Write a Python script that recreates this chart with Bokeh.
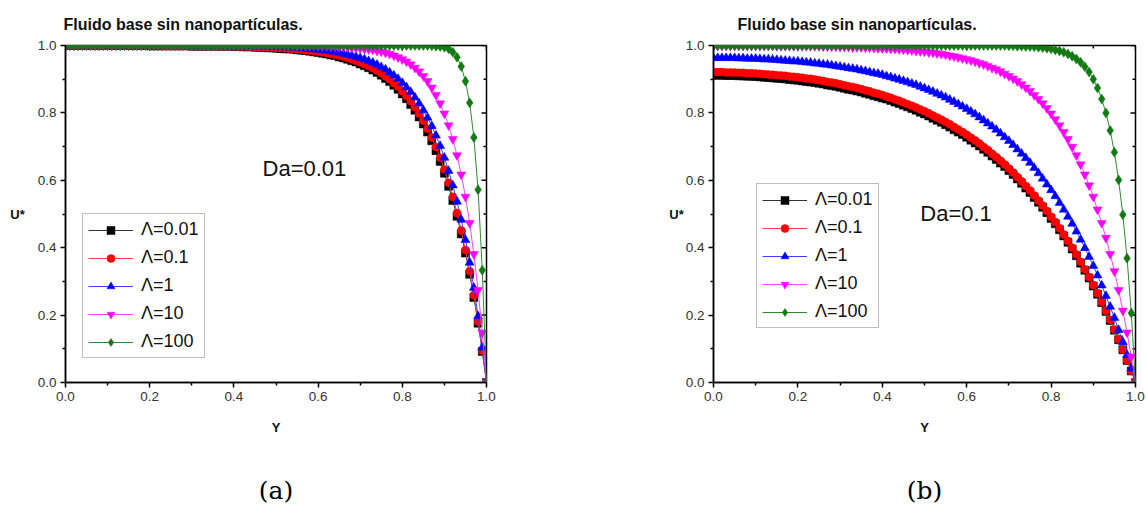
from bokeh.plotting import figure
from bokeh.models import Range1d, FixedTicker, Legend, LegendItem, PrintfTickFormatter, Label, LinearAxis
from bokeh.layouts import row
from bokeh.embed import file_html
from bokeh.resources import INLINE

# ---------------- data ----------------
Y = [0.00, 0.01, 0.02, 0.03, 0.04, 0.05, 0.06, 0.07, 0.08, 0.09,
     0.10, 0.11, 0.12, 0.13, 0.14, 0.15, 0.16, 0.17, 0.18, 0.19,
     0.20, 0.21, 0.22, 0.23, 0.24, 0.25, 0.26, 0.27, 0.28, 0.29,
     0.30, 0.31, 0.32, 0.33, 0.34, 0.35, 0.36, 0.37, 0.38, 0.39,
     0.40, 0.41, 0.42, 0.43, 0.44, 0.45, 0.46, 0.47, 0.48, 0.49,
     0.50, 0.51, 0.52, 0.53, 0.54, 0.55, 0.56, 0.57, 0.58, 0.59,
     0.60, 0.61, 0.62, 0.63, 0.64, 0.65, 0.66, 0.67, 0.68, 0.69,
     0.70, 0.71, 0.72, 0.73, 0.74, 0.75, 0.76, 0.77, 0.78, 0.79,
     0.80, 0.81, 0.82, 0.83, 0.84, 0.85, 0.86, 0.87, 0.88, 0.89,
     0.90, 0.91, 0.92, 0.93, 0.94, 0.95, 0.96, 0.97, 0.98, 0.99,
     1.00]

LEGEND_LABELS = ["Λ=0.01", "Λ=0.1", "Λ=1", "Λ=10", "Λ=100"]
TICKS = [0.0, 0.2, 0.4, 0.6, 0.8, 1.0]
MINOR = [0.1, 0.3, 0.5, 0.7, 0.9]

# (a) Da = 0.01
U_A_001 = [1.000, 1.000, 1.000, 1.000, 1.000, 1.000, 1.000, 1.000, 1.000, 1.000,
           1.000, 1.000, 1.000, 1.000, 1.000, 1.000, 1.000, 1.000, 1.000, 1.000,
           0.999, 0.999, 0.999, 0.999, 0.999, 0.999, 0.999, 0.999, 0.999, 0.999,
           0.998, 0.998, 0.998, 0.998, 0.998, 0.998, 0.998, 0.998, 0.998, 0.998,
           0.997, 0.997, 0.996, 0.996, 0.996, 0.995, 0.995, 0.994, 0.993, 0.993,
           0.992, 0.991, 0.990, 0.990, 0.989, 0.987, 0.986, 0.985, 0.983, 0.981,
           0.979, 0.977, 0.975, 0.972, 0.970, 0.966, 0.963, 0.959, 0.955, 0.951,
           0.945, 0.940, 0.934, 0.927, 0.920, 0.912, 0.902, 0.893, 0.882, 0.870,
           0.856, 0.842, 0.825, 0.808, 0.788, 0.767, 0.743, 0.717, 0.688, 0.656,
           0.621, 0.582, 0.540, 0.493, 0.441, 0.384, 0.321, 0.252, 0.176, 0.092,
           0.000]
U_A_01 = [1.000, 1.000, 1.000, 1.000, 1.000, 1.000, 1.000, 1.000, 1.000, 1.000,
          1.000, 1.000, 1.000, 1.000, 1.000, 1.000, 1.000, 1.000, 1.000, 1.000,
          1.000, 1.000, 1.000, 1.000, 0.999, 0.999, 0.999, 0.999, 0.999, 0.999,
          0.999, 0.999, 0.998, 0.998, 0.998, 0.998, 0.998, 0.998, 0.998, 0.998,
          0.998, 0.997, 0.997, 0.997, 0.996, 0.996, 0.995, 0.995, 0.994, 0.994,
          0.993, 0.993, 0.992, 0.991, 0.990, 0.989, 0.988, 0.986, 0.985, 0.983,
          0.982, 0.980, 0.978, 0.975, 0.973, 0.970, 0.967, 0.963, 0.959, 0.955,
          0.950, 0.945, 0.939, 0.933, 0.926, 0.918, 0.909, 0.900, 0.889, 0.878,
          0.865, 0.850, 0.835, 0.817, 0.798, 0.777, 0.753, 0.727, 0.699, 0.667,
          0.632, 0.593, 0.551, 0.503, 0.451, 0.393, 0.330, 0.259, 0.181, 0.095,
          0.000]
U_A_1 = [1.000, 1.000, 1.000, 1.000, 1.000, 1.000, 1.000, 1.000, 1.000, 1.000,
         1.000, 1.000, 1.000, 1.000, 1.000, 1.000, 1.000, 1.000, 1.000, 1.000,
         1.000, 1.000, 1.000, 1.000, 1.000, 1.000, 1.000, 1.000, 1.000, 1.000,
         0.999, 0.999, 0.999, 0.999, 0.999, 0.999, 0.999, 0.999, 0.998, 0.998,
         0.998, 0.998, 0.998, 0.998, 0.998, 0.998, 0.997, 0.997, 0.997, 0.996,
         0.996, 0.995, 0.995, 0.994, 0.994, 0.993, 0.992, 0.991, 0.990, 0.989,
         0.988, 0.986, 0.985, 0.983, 0.981, 0.979, 0.976, 0.973, 0.970, 0.967,
         0.963, 0.959, 0.954, 0.949, 0.943, 0.936, 0.929, 0.920, 0.911, 0.901,
         0.889, 0.876, 0.862, 0.846, 0.828, 0.808, 0.786, 0.761, 0.733, 0.702,
         0.667, 0.628, 0.585, 0.537, 0.483, 0.423, 0.356, 0.281, 0.197, 0.104,
         0.000]
U_A_10 = [1.000, 1.000, 1.000, 1.000, 1.000, 1.000, 1.000, 1.000, 1.000, 1.000,
          1.000, 1.000, 1.000, 1.000, 1.000, 1.000, 1.000, 1.000, 1.000, 1.000,
          1.000, 1.000, 1.000, 1.000, 1.000, 1.000, 1.000, 1.000, 1.000, 1.000,
          1.000, 1.000, 1.000, 1.000, 1.000, 1.000, 1.000, 1.000, 1.000, 1.000,
          1.000, 1.000, 1.000, 1.000, 1.000, 1.000, 1.000, 1.000, 1.000, 1.000,
          1.000, 1.000, 1.000, 1.000, 1.000, 0.999, 0.999, 0.999, 0.999, 0.999,
          0.998, 0.998, 0.998, 0.997, 0.997, 0.996, 0.996, 0.995, 0.994, 0.993,
          0.992, 0.990, 0.989, 0.987, 0.984, 0.982, 0.979, 0.975, 0.970, 0.965,
          0.959, 0.952, 0.944, 0.934, 0.923, 0.909, 0.894, 0.875, 0.853, 0.828,
          0.798, 0.763, 0.722, 0.674, 0.617, 0.551, 0.473, 0.381, 0.274, 0.148,
          0.000]
U_A_100 = [1.000, 1.000, 1.000, 1.000, 1.000, 1.000, 1.000, 1.000, 1.000, 1.000,
           1.000, 1.000, 1.000, 1.000, 1.000, 1.000, 1.000, 1.000, 1.000, 1.000,
           1.000, 1.000, 1.000, 1.000, 1.000, 1.000, 1.000, 1.000, 1.000, 1.000,
           1.000, 1.000, 1.000, 1.000, 1.000, 1.000, 1.000, 1.000, 1.000, 1.000,
           1.000, 1.000, 1.000, 1.000, 1.000, 1.000, 1.000, 1.000, 1.000, 1.000,
           1.000, 1.000, 1.000, 1.000, 1.000, 1.000, 1.000, 1.000, 1.000, 1.000,
           1.000, 1.000, 1.000, 1.000, 1.000, 1.000, 1.000, 1.000, 1.000, 1.000,
           1.000, 1.000, 1.000, 1.000, 1.000, 1.000, 1.000, 1.000, 1.000, 1.000,
           1.000, 1.000, 1.000, 1.000, 1.000, 1.000, 1.000, 0.999, 0.998, 0.997,
           0.995, 0.990, 0.980, 0.965, 0.938, 0.894, 0.830, 0.727, 0.572, 0.333,
           0.000]

# (b) Da = 0.1
U_B_001 = [0.912, 0.912, 0.912, 0.911, 0.911, 0.911, 0.910, 0.910, 0.909, 0.909,
           0.908, 0.907, 0.906, 0.905, 0.904, 0.903, 0.902, 0.901, 0.899, 0.898,
           0.897, 0.895, 0.893, 0.892, 0.890, 0.888, 0.886, 0.883, 0.881, 0.879,
           0.876, 0.873, 0.870, 0.868, 0.865, 0.862, 0.858, 0.855, 0.851, 0.848,
           0.844, 0.841, 0.837, 0.832, 0.828, 0.823, 0.818, 0.813, 0.808, 0.802,
           0.797, 0.791, 0.784, 0.778, 0.772, 0.765, 0.758, 0.750, 0.743, 0.736,
           0.728, 0.719, 0.711, 0.702, 0.692, 0.683, 0.672, 0.662, 0.651, 0.641,
           0.629, 0.617, 0.604, 0.591, 0.577, 0.564, 0.549, 0.535, 0.520, 0.504,
           0.487, 0.471, 0.453, 0.435, 0.416, 0.396, 0.376, 0.354, 0.333, 0.310,
           0.286, 0.262, 0.237, 0.211, 0.184, 0.155, 0.127, 0.097, 0.065, 0.034,
           0.000]
U_B_01 = [0.921, 0.921, 0.921, 0.920, 0.920, 0.920, 0.919, 0.919, 0.918, 0.918,
          0.917, 0.916, 0.915, 0.914, 0.913, 0.912, 0.911, 0.910, 0.908, 0.907,
          0.906, 0.904, 0.902, 0.901, 0.899, 0.897, 0.895, 0.892, 0.890, 0.888,
          0.885, 0.882, 0.879, 0.877, 0.874, 0.871, 0.867, 0.864, 0.860, 0.857,
          0.853, 0.849, 0.845, 0.840, 0.836, 0.831, 0.826, 0.821, 0.816, 0.810,
          0.805, 0.799, 0.792, 0.786, 0.780, 0.773, 0.766, 0.758, 0.751, 0.743,
          0.735, 0.726, 0.718, 0.709, 0.699, 0.690, 0.679, 0.669, 0.658, 0.647,
          0.635, 0.623, 0.610, 0.597, 0.583, 0.570, 0.555, 0.540, 0.525, 0.509,
          0.492, 0.476, 0.458, 0.439, 0.420, 0.400, 0.380, 0.358, 0.336, 0.313,
          0.289, 0.265, 0.239, 0.213, 0.186, 0.157, 0.128, 0.098, 0.066, 0.034,
          0.000]
U_B_1 = [0.963, 0.963, 0.963, 0.963, 0.963, 0.963, 0.962, 0.962, 0.961, 0.961,
         0.961, 0.960, 0.959, 0.959, 0.958, 0.957, 0.956, 0.955, 0.954, 0.953,
         0.953, 0.951, 0.950, 0.949, 0.947, 0.946, 0.944, 0.943, 0.941, 0.939,
         0.937, 0.935, 0.933, 0.931, 0.929, 0.926, 0.924, 0.921, 0.918, 0.916,
         0.913, 0.909, 0.906, 0.902, 0.899, 0.895, 0.891, 0.887, 0.883, 0.878,
         0.873, 0.868, 0.863, 0.857, 0.852, 0.846, 0.839, 0.833, 0.826, 0.819,
         0.812, 0.804, 0.796, 0.787, 0.778, 0.769, 0.760, 0.750, 0.739, 0.728,
         0.717, 0.705, 0.692, 0.679, 0.666, 0.652, 0.637, 0.621, 0.605, 0.588,
         0.571, 0.553, 0.533, 0.513, 0.492, 0.471, 0.448, 0.424, 0.399, 0.373,
         0.346, 0.318, 0.288, 0.257, 0.225, 0.192, 0.156, 0.120, 0.082, 0.042,
         0.000]
U_B_10 = [0.999, 0.999, 0.999, 0.999, 0.999, 0.999, 0.999, 0.999, 0.999, 0.999,
          0.999, 0.999, 0.999, 0.999, 0.999, 0.998, 0.998, 0.998, 0.998, 0.998,
          0.998, 0.998, 0.998, 0.998, 0.998, 0.998, 0.997, 0.997, 0.997, 0.997,
          0.996, 0.996, 0.996, 0.995, 0.995, 0.995, 0.994, 0.994, 0.993, 0.992,
          0.992, 0.991, 0.990, 0.990, 0.989, 0.988, 0.987, 0.986, 0.984, 0.983,
          0.982, 0.980, 0.979, 0.977, 0.975, 0.973, 0.970, 0.968, 0.965, 0.962,
          0.959, 0.956, 0.952, 0.948, 0.944, 0.939, 0.934, 0.929, 0.923, 0.916,
          0.909, 0.902, 0.894, 0.885, 0.875, 0.865, 0.853, 0.841, 0.828, 0.814,
          0.798, 0.781, 0.763, 0.743, 0.722, 0.699, 0.674, 0.647, 0.617, 0.585,
          0.551, 0.513, 0.473, 0.429, 0.381, 0.330, 0.274, 0.213, 0.148, 0.077,
          0.000]
U_B_100 = [1.000, 1.000, 1.000, 1.000, 1.000, 1.000, 1.000, 1.000, 1.000, 1.000,
           1.000, 1.000, 1.000, 1.000, 1.000, 1.000, 1.000, 1.000, 1.000, 1.000,
           1.000, 1.000, 1.000, 1.000, 1.000, 1.000, 1.000, 1.000, 1.000, 1.000,
           1.000, 1.000, 1.000, 1.000, 1.000, 1.000, 1.000, 1.000, 1.000, 1.000,
           1.000, 1.000, 1.000, 1.000, 1.000, 1.000, 1.000, 1.000, 1.000, 1.000,
           1.000, 1.000, 1.000, 1.000, 1.000, 1.000, 1.000, 1.000, 1.000, 1.000,
           1.000, 1.000, 1.000, 1.000, 1.000, 1.000, 1.000, 1.000, 1.000, 1.000,
           0.999, 0.999, 0.998, 0.998, 0.997, 0.997, 0.996, 0.995, 0.994, 0.992,
           0.990, 0.987, 0.984, 0.980, 0.975, 0.968, 0.960, 0.950, 0.937, 0.921,
           0.900, 0.874, 0.841, 0.800, 0.748, 0.683, 0.601, 0.498, 0.369, 0.206,
           0.000]

for s in (U_A_001, U_A_01, U_A_1, U_A_10, U_A_100, U_B_001, U_B_01, U_B_1, U_B_10, U_B_100):
    assert len(s) == len(Y), len(s)

# ---------------- styling ----------------
COLORS = ["#000000", "#FF0000", "#0000FF", "#FF00FF", "#137A13"]
LINE_COLORS = ["#333333", "#FF4040", "#4040FF", "#FF40FF", "#2E8B2E"]
MARKERS = ["square", "circle", "triangle", "inverted_triangle", "diamond"]
SIZES = [8, 8, 9, 9, 10]
SANS = "Liberation Sans"
FRAME_H = 339


def style_axis(ax, label, standoff, horizontal=False):
    ax.ticker = FixedTicker(ticks=TICKS, minor_ticks=MINOR)
    ax.axis_line_width = 1.5
    ax.axis_line_color = "black"
    ax.major_tick_line_width = 1.5
    ax.minor_tick_line_width = 1.5
    ax.major_tick_line_color = "black"
    ax.minor_tick_line_color = "black"
    ax.major_tick_in = 0
    ax.major_tick_out = 5
    ax.minor_tick_in = 0
    ax.minor_tick_out = 3
    ax.formatter = PrintfTickFormatter(format="%.1f")
    ax.major_label_text_font = SANS
    ax.major_label_text_font_size = "13.5px"
    ax.major_label_text_color = "#333333"
    ax.major_label_standoff = 4
    ax.axis_label = label
    ax.axis_label_text_font = SANS
    ax.axis_label_text_font_style = "bold"
    ax.axis_label_text_font_size = "13px"
    ax.axis_label_text_color = "#111111"
    ax.axis_label_standoff = standoff
    if horizontal:
        try:
            ax.axis_label_orientation = "horizontal"
        except Exception:
            pass


def make_panel(series, width, border_left, border_right, title_offset, da_text, da_x, da_y,
               legend_xy, cap_text, ulabel_standoff, frame_w):
    p = figure(width=width, height=507, x_range=Range1d(0, 1), y_range=Range1d(0, 1),
               output_backend="svg", toolbar_location=None,
               min_border_left=border_left, min_border_right=border_right,
               min_border_top=44, min_border_bottom=124)
    p.xgrid.visible = False
    p.ygrid.visible = False
    p.outline_line_color = "black"
    p.outline_line_width = 1.5
    p.background_fill_color = "white"
    p.border_fill_color = "white"
    style_axis(p.xaxis[0], "Y", 16)
    style_axis(p.yaxis[0], "U*", ulabel_standoff, horizontal=True)

    # inward ticks on the top and right frame edges
    n = len(TICKS)
    m = len(MINOR)
    p.segment(x0=TICKS, y0=[1.0] * n, x1=TICKS, y1=[1.0 - 5.0 / FRAME_H] * n,
              line_color="black", line_width=1.5)
    p.segment(x0=MINOR, y0=[1.0] * m, x1=MINOR, y1=[1.0 - 3.0 / FRAME_H] * m,
              line_color="black", line_width=1.5)
    p.segment(x0=[1.0] * n, y0=TICKS, x1=[1.0 - 5.0 / frame_w] * n, y1=TICKS,
              line_color="black", line_width=1.5)
    p.segment(x0=[1.0] * m, y0=MINOR, x1=[1.0 - 3.0 / frame_w] * m, y1=MINOR,
              line_color="black", line_width=1.5)

    items = []
    for i, u in enumerate(series):
        ln = p.line(Y, u, line_color=LINE_COLORS[i], line_width=1)
        sc = p.scatter(Y, u, marker=MARKERS[i], size=SIZES[i],
                       fill_color=COLORS[i], line_color=COLORS[i], line_width=0.5)
        items.append(LegendItem(label=LEGEND_LABELS[i], renderers=[ln, sc]))
    legend = Legend(items=items, location=legend_xy, label_text_font=SANS,
                    label_text_font_size="18px", label_text_color="#111111",
                    glyph_width=45, glyph_height=20, label_height=20,
                    spacing=7, padding=5, margin=0, label_standoff=8,
                    border_line_color="#808080", border_line_width=1,
                    background_fill_color="white", background_fill_alpha=1.0)
    p.add_layout(legend)

    p.title.text = "Fluido base sin nanopartículas."
    p.title.text_font = SANS
    p.title.text_font_style = "bold"
    p.title.text_font_size = "16px"
    p.title.text_color = "#111111"
    p.title.align = "left"
    p.title.offset = title_offset
    p.title.standoff = 26

    p.add_layout(Label(x=da_x, y=da_y, text=da_text, text_font=SANS,
                       text_font_size="22px", text_baseline="middle", text_align="left",
                       text_color="#111111"))

    # sub-figure caption drawn as the label of a bare axis under the x axis
    cap = LinearAxis(ticker=FixedTicker(ticks=[], minor_ticks=[]),
                     axis_line_color=None, major_tick_line_color=None,
                     minor_tick_line_color=None, major_tick_out=0, minor_tick_out=0,
                     major_label_standoff=0,
                     axis_label=cap_text, axis_label_text_font="DejaVu Serif",
                     axis_label_text_font_size="25px", axis_label_text_font_style="normal",
                     axis_label_text_color="black", axis_label_standoff=38)
    p.add_layout(cap, "below")
    return p


pa = make_panel([U_A_001, U_A_01, U_A_1, U_A_10, U_A_100], width=590,
                border_left=65, border_right=104, title_offset=-2,
                da_text="Da=0.01", da_x=0.468, da_y=0.634, legend_xy=(17, 24),
                cap_text="(a)", ulabel_standoff=10, frame_w=421)
pb = make_panel([U_B_001, U_B_01, U_B_1, U_B_10, U_B_100], width=557,
                border_left=123, border_right=12, title_offset=24,
                da_text="Da=0.1", da_x=0.49, da_y=0.501, legend_xy=(43, 54),
                cap_text="(b)", ulabel_standoff=-1, frame_w=422)

layout = row(pa, pb)
open("out.html", "w").write(file_html(layout, INLINE))
